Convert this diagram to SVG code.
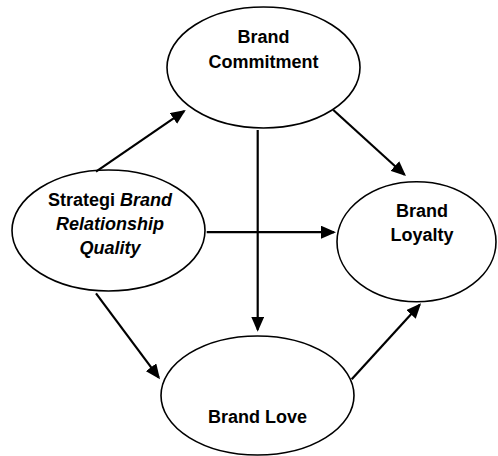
<svg xmlns="http://www.w3.org/2000/svg" width="498" height="456" viewBox="0 0 498 456">
<style>
.node ellipse{fill:#fff;stroke:#000;stroke-width:1.6}
.node text{font-family:"Liberation Sans",Arial,sans-serif;font-weight:bold;font-size:18px;fill:#000;text-anchor:middle}
.it{font-style:italic}
.conn line{stroke:#000;stroke-width:2.2;marker-end:url(#ah)}
</style>
<defs>
<marker id="ah" markerUnits="userSpaceOnUse" markerWidth="16" markerHeight="13" refX="13" refY="6.5" orient="auto">
<path d="M0,0 L15,6.5 L0,13 z" fill="#000"/>
</marker>
</defs>
<rect width="498" height="456" fill="#fff"/>
<g id="commitment" class="node">
<ellipse cx="263.5" cy="67.5" rx="96.5" ry="60.5"/>
<text x="263.5" y="43.3">Brand</text>
<text x="263.5" y="68.3">Commitment</text>
</g>
<g id="strategi" class="node">
<ellipse cx="108.5" cy="230.5" rx="96.5" ry="60.5"/>
<text x="110" y="206">Strategi <tspan class="it">Brand</tspan></text>
<text x="110" y="230" class="it">Relationship</text>
<text x="110" y="254" class="it">Quality</text>
</g>
<g id="loyalty" class="node">
<ellipse cx="416.5" cy="241.7" rx="79.5" ry="60"/>
<text x="422" y="216.7">Brand</text>
<text x="422" y="241">Loyalty</text>
</g>
<g id="love" class="node">
<ellipse cx="257.5" cy="395.5" rx="96.5" ry="59.5"/>
<text x="257.5" y="423.3">Brand Love</text>
</g>
<g id="connectors" class="conn">
<line x1="96" y1="171.7" x2="184.1" y2="111.1"/>
<line x1="333.3" y1="110" x2="404.5" y2="174.7"/>
<line x1="206.7" y1="232.2" x2="334" y2="232.2"/>
<line x1="257.7" y1="130" x2="257.7" y2="329.7"/>
<line x1="96" y1="293.3" x2="158.8" y2="377.7"/>
<line x1="351.7" y1="379.3" x2="419.7" y2="304.8"/>
</g>
</svg>
